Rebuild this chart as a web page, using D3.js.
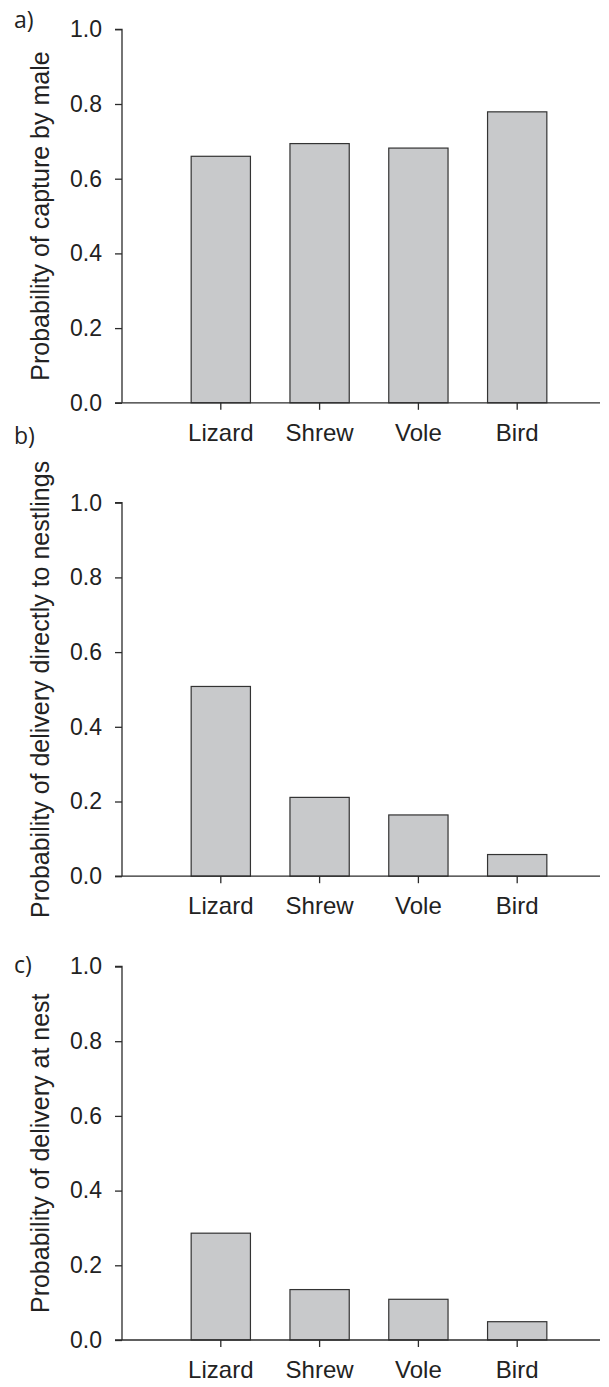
<!DOCTYPE html>
<html>
<head>
<meta charset="utf-8">
<script src="https://cdn.jsdelivr.net/npm/d3@7"></script>
<style>
  html, body { margin: 0; padding: 0; background: #fff; }
  svg { display: block; }
</style>
</head>
<body>
<svg id="chart" width="609" height="1387"></svg>
<script>
// Prey categories shared by all three panels
const categories = ["Lizard", "Shrew", "Vole", "Bird"];

// Panel a) probability of capture by male
const captureByMale = [0.66, 0.694, 0.682, 0.779];
// Panel b) probability of delivery directly to nestlings
const deliveryToNestlings = [0.508, 0.211, 0.164, 0.058];
// Panel c) probability of delivery at nest
const deliveryAtNest = [0.286, 0.135, 0.109, 0.049];

const yTicks = [0, 0.2, 0.4, 0.6, 0.8, 1.0];
const panelTags = ["a)", "b)", "c)"];
const yTitles = [
  "Probability of capture by male",
  "Probability of delivery directly to nestlings",
  "Probability of delivery at nest"
];

const panels = [
  { tag: panelTags[0], title: yTitles[0], values: captureByMale, top: 29.3, tagY: 28 },
  { tag: panelTags[1], title: yTitles[1], values: deliveryToNestlings, top: 502.7, tagY: 444 },
  { tag: panelTags[2], title: yTitles[2], values: deliveryAtNest, top: 966.5, tagY: 973 }
];

const sansFont = "'Liberation Sans', Arial, Helvetica, sans-serif";
const tagFont = "'Open Sans', 'Noto Sans', sans-serif";

const svg = d3.select("#chart");
const axisX = 122;       // position of the y axis
const axisLeft = 115;    // x axis line begins under the tick marks
const axisRight = 600;
const plotH = 373.5;
const ink = "#2b2b2b";

const x = d3.scaleBand()
  .domain(categories)
  .range([axisX, 616])
  .paddingInner(0.4)
  .paddingOuter(0.7);

panels.forEach(p => {
  const g = svg.append("g");
  const bottom = p.top + plotH;
  const y = d3.scaleLinear().domain([0, 1]).range([bottom, p.top]);

  // bars
  g.selectAll("rect.bar")
    .data(categories.map((c, i) => ({ c, v: p.values[i] })))
    .join("rect")
    .attr("class", "bar")
    .attr("x", d => x(d.c))
    .attr("width", x.bandwidth())
    .attr("y", d => y(d.v))
    .attr("height", d => y(0) - y(d.v))
    .attr("fill", "#c8c9cb")
    .attr("stroke", "#333")
    .attr("stroke-width", 1.2);

  // y axis
  const yAxis = d3.axisLeft(y)
    .tickValues(yTicks)
    .tickFormat(d3.format(".1f"))
    .tickSize(7)
    .tickPadding(13);
  const ya = g.append("g").attr("transform", `translate(${axisX},0)`).call(yAxis)
    .attr("font-family", null).attr("font-size", null);
  ya.select(".domain").attr("stroke", ink).attr("stroke-width", 1.3)
    .attr("d", `M-7,${p.top}H0V${bottom}`);
  ya.selectAll(".tick line").attr("stroke", ink).attr("stroke-width", 1.3);
  ya.selectAll(".tick text")
    .style("font-family", sansFont)
    .style("font-size", "23px")
    .attr("fill", "#222");

  // x axis
  const xAxis = d3.axisBottom(x).tickSize(7).tickPadding(14);
  const xa = g.append("g").attr("transform", `translate(0,${bottom})`).call(xAxis)
    .attr("font-family", null).attr("font-size", null);
  xa.select(".domain").attr("stroke", ink).attr("stroke-width", 1.3)
    .attr("d", `M${axisLeft},0H${axisRight}`);
  xa.selectAll(".tick line").attr("stroke", ink).attr("stroke-width", 1.3);
  xa.selectAll(".tick text")
    .style("font-family", sansFont)
    .style("font-size", "24px")
    .attr("fill", "#222");

  // y axis title
  g.append("text")
    .attr("transform", `translate(49,${(p.top + bottom) / 2}) rotate(-90)`)
    .attr("text-anchor", "middle")
    .style("font-family", sansFont)
    .style("font-size", "25px")
    .attr("fill", "#222")
    .text(p.title);

  // panel tag
  g.append("text")
    .attr("x", 14)
    .attr("y", p.tagY)
    .style("font-family", tagFont)
    .style("font-size", "23px")
    .attr("fill", "#222")
    .text(p.tag);
});
</script>
</body>
</html>
